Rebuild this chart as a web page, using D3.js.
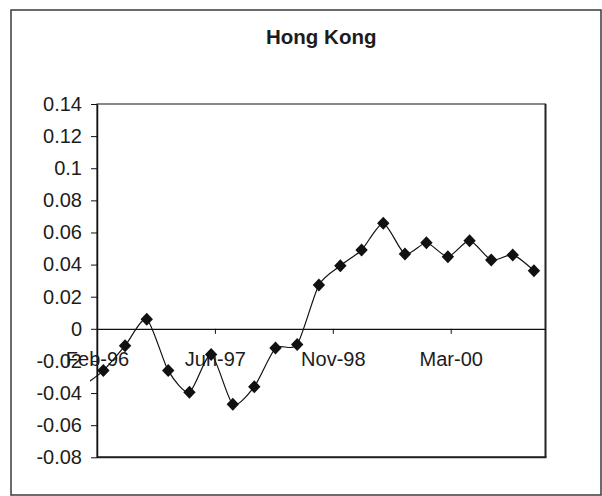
<!DOCTYPE html>
<html><head><meta charset="utf-8">
<script src="https://cdn.jsdelivr.net/npm/d3@7"></script>
<style>
body{margin:0;background:#fff}
svg{display:block}
text{font-family:"Liberation Sans",Arial,sans-serif;fill:#1c1c1c}
</style>
</head><body><svg id="c" width="602" height="496"></svg>
<script>
const title = "Hong Kong";
// quarterly observation dates (first one lies before the axis start and is only reached by the line)
const dates = ["1995-12-08","1996-03-08","1996-06-08","1996-09-08","1996-12-08","1997-03-08","1997-06-08","1997-09-08","1997-12-08",
  "1998-03-08","1998-06-08","1998-09-08","1998-12-08","1999-03-08","1999-06-08","1999-09-08","1999-12-08",
  "2000-03-08","2000-06-08","2000-09-08","2000-12-08","2001-03-08"];
const values = [-0.036,-0.026,-0.0105,0.006,-0.026,-0.0395,-0.016,-0.047,-0.036,-0.012,-0.0097,0.0273,0.0393,0.0491,0.0657,0.0466,0.0536,0.0449,0.0549,0.0429,0.046,0.0362];
const xDomain = ["1996-02-10","2001-04-26"];
const xTickDates = ["1996-02-10","1997-06-24","1998-11-06","2000-03-20"];
const yTicks = [0.14,0.12,0.1,0.08,0.06,0.04,0.02,0,-0.02,-0.04,-0.06,-0.08];

const parse = d3.utcParse("%Y-%m-%d");
const data = dates.map((d,i)=>({date:parse(d), v:values[i]}));
const svg = d3.select("#c");
const W=602,H=496;
const m={left:97,right:545.5,top:104,bottom:457.3};

// outer chart border
svg.append("rect").attr("x",11).attr("y",10).attr("width",590).attr("height",485)
  .attr("fill","#fff").attr("stroke","#3a3a3a").attr("stroke-width",1.5);

const x = d3.scaleUtc().domain(xDomain.map(parse)).range([m.left,m.right]);
const y = d3.scaleLinear().domain([-0.08,0.14]).range([m.bottom,m.top]);

// plot area border
svg.append("rect").attr("x",m.left).attr("y",m.top).attr("width",m.right-m.left).attr("height",m.bottom-m.top)
  .attr("fill","none").attr("stroke","#111").attr("stroke-width",1);
svg.append("line").attr("x1",m.left).attr("x2",m.right+1).attr("y1",m.bottom).attr("y2",m.bottom).attr("stroke","#222").attr("stroke-width",2);
svg.append("line").attr("x1",m.right).attr("x2",m.right).attr("y1",m.top).attr("y2",m.bottom).attr("stroke","#222").attr("stroke-width",2);

// title
svg.append("text").attr("x",(m.left+m.right)/2).attr("y",44).attr("text-anchor","middle")
  .attr("font-size",20.5).attr("font-weight","bold").text(title);

const fmt = d => String(+d.toFixed(2));
const yAxis = svg.append("g").attr("transform",`translate(${m.left},0)`)
  .call(d3.axisLeft(y).tickValues(yTicks).tickFormat(fmt).tickSize(6).tickSizeOuter(0).tickPadding(9));
yAxis.select(".domain").attr("stroke","#111").attr("stroke-width",1.5);
yAxis.selectAll(".tick line").attr("stroke","#111");
yAxis.selectAll("text").attr("font-size",20).attr("font-family","Liberation Sans, Arial, sans-serif").attr("fill","#1c1c1c");

const xAxis = svg.append("g").attr("transform",`translate(0,${y(0)})`)
  .call(d3.axisBottom(x).tickValues(xTickDates.map(parse)).tickFormat(d3.utcFormat("%b-%y")).tickSize(5).tickSizeOuter(0));
xAxis.select(".domain").attr("stroke","#111").attr("stroke-width",1.2);
xAxis.selectAll(".tick line").attr("stroke","#111");
xAxis.selectAll("text").attr("font-size",20).attr("font-family","Liberation Sans, Arial, sans-serif").attr("fill","#1c1c1c")
  .attr("y",37).attr("dy",0);

// line
svg.append("clipPath").attr("id","clip").append("rect")
  .attr("x",m.left-7).attr("y",0).attr("width",W).attr("height",H);
const line = d3.line().x(d=>x(d.date)).y(d=>y(d.v)).curve(d3.curveCardinal.tension(0.3));
svg.append("path").datum(data).attr("d",line).attr("fill","none").attr("stroke","#111").attr("stroke-width",1.2)
  .attr("clip-path","url(#clip)");

// markers
const [d0,d1] = x.domain();
svg.append("g").selectAll("path").data(data.filter(d=>d.date>=d0 && d.date<=d1)).join("path")
  .attr("transform",d=>`translate(${x(d.date)},${y(d.v)})`)
  .attr("d","M0,-6.5L6.2,0L0,6.5L-6.2,0Z").attr("fill","#111");
</script>
</body></html>
